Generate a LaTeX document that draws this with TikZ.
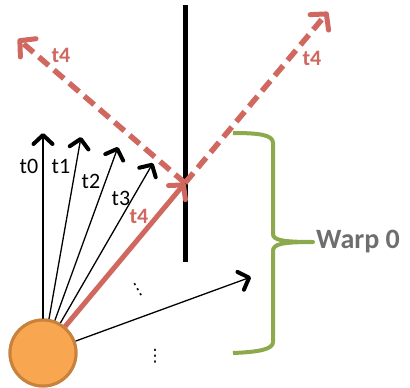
\documentclass[tikz,border=0pt]{standalone}
\usepackage{fontspec}
\setmainfont{Carlito}
\newfontfamily\symfont{DejaVu Sans}
\usetikzlibrary{arrows.meta}
\definecolor{rayred}{RGB}{208,104,96}
\definecolor{bracegreen}{RGB}{140,170,75}
\definecolor{srcfill}{RGB}{248,166,80}
\definecolor{srcdraw}{RGB}{200,130,60}
\definecolor{warpgrey}{RGB}{110,110,110}
\tikzset{
  ray/.style={black, line width=1.3pt, -{Straight Barb[length=9pt,width=19pt,line width=4pt,round]}},
  hitray/.style={rayred, line width=5pt, -{Straight Barb[length=10pt,width=22pt,line width=5pt,round]}},
  reflray/.style={rayred, line width=5.5pt, dash pattern=on 13pt off 7pt, -{Straight Barb[length=11pt,width=24pt,line width=5pt,round]}},
  tlabel/.style={anchor=base, font=\fontsize{22}{26}\selectfont},
  redlabel/.style={anchor=base, text=rayred, font=\fontsize{22}{26}\selectfont\bfseries},
  wall/.style={black, line width=5pt},
  brace/.style={bracegreen, line width=4pt, line join=round},
  dotsnode/.style={font=\symfont\fontsize{17}{20}\selectfont, inner sep=0pt}
}
\begin{document}
\begin{tikzpicture}[x=1pt,y=-1pt]
\useasboundingbox (0,0) rectangle (410,388);
% wall
\coordinate (wtop) at (185,5);
\coordinate (wbot) at (185,262);
\draw[wall] (wtop) -- (wbot);
% source
\node[circle, minimum size=66pt, inner sep=0pt, fill=srcfill, draw=srcdraw, line width=3pt] (src) at (43,353) {};
% ray tips
\coordinate (e0) at (43,133);
\coordinate (e1) at (81,137);
\coordinate (e2) at (118,147);
\coordinate (e3) at (153,163);
\coordinate (hit) at (185,183);
\coordinate (e5) at (251,277);
\coordinate (refl) at (18,39);
\coordinate (trans) at (328,12);
\draw[ray] (src) -- (e0);
\draw[ray] (src) -- (e1);
\draw[ray] (src) -- (e2);
\draw[ray] (src) -- (e3);
\draw[ray] (src) -- (e5);
\draw[hitray] (src) -- (hit);
\draw[reflray] (hit) -- (refl);
\draw[reflray] (hit) -- (trans);
% redraw source on top
\node[circle, minimum size=66pt, inner sep=0pt, fill=srcfill, draw=srcdraw, line width=3pt] (src2) at (src) {};
% labels
\node[tlabel] (l0) at (29,173) {t0};
\node[tlabel] (l1) at (61,173) {t1};
\node[tlabel] (l2) at (91,188) {t2};
\node[tlabel] (l3) at (121,205) {t3};
\node[redlabel] (l4) at (139,223) {t4};
\node[redlabel] (l4a) at (61,62) {t4};
\node[redlabel] (l4b) at (312,65) {t4};
% dots
\node[dotsnode, rotate=30] (d1) at (138,290) {⋮};
\node[dotsnode] (d2) at (155,356) {⋮};
% brace
\coordinate (btop) at (233,133);
\coordinate (btip) at (313,242);
\coordinate (bbot) at (233,353);
\draw[brace] (btop) .. controls (260,133) and (273,135) .. (273,143)
  -- (273,234) .. controls (273,240) and (282,242) .. (btip)
  .. controls (282,242) and (273,244) .. (273,251)
  -- (273,342) .. controls (273,349) and (260,352) .. (bbot);
\node[anchor=west, text=warpgrey, font=\fontsize{28}{32}\selectfont\bfseries, inner sep=2pt] (warp) at (314,242) {Warp 0};
\end{tikzpicture}
\end{document}
